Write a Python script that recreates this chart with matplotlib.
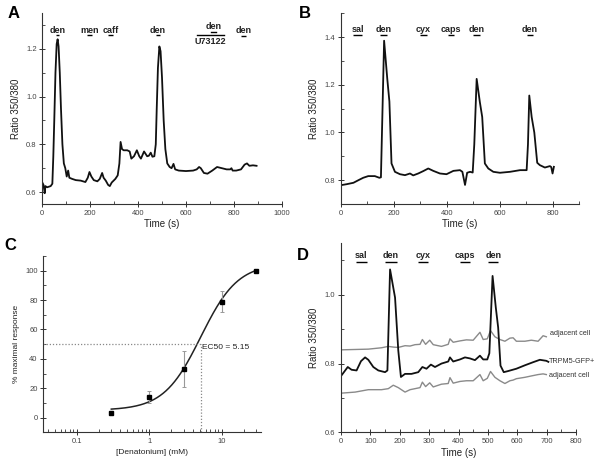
import numpy as np
import matplotlib
matplotlib.use("Agg")
import matplotlib.pyplot as plt
from matplotlib.ticker import MultipleLocator, LogLocator, NullFormatter, FixedLocator

plt.rcParams['font.family'] = ['Liberation Sans', 'DejaVu Sans']

# ---------------- Panel A data ----------------
a_time = [0, 5, 10, 13, 20, 35, 42, 46, 50, 55, 60, 64, 68, 73, 78, 84, 90, 96, 102, 108, 113,
          125, 140, 160, 180, 190, 197, 205, 215, 230, 240, 250, 256, 265, 275, 282, 290, 305,
          315, 322, 327, 333, 340, 355, 365, 372, 383, 395, 405, 412, 425, 438, 445, 453, 460,
          468, 474, 478, 483, 489, 494, 500, 507, 514, 522, 532, 540, 548, 555, 570, 600, 630,
          645, 655, 662, 675, 690, 710, 730, 750, 770, 785, 790, 795, 810, 830, 845, 855, 865,
          880, 895]
a_ratio = [0.64, 0.63, 0.595, 0.625, 0.62, 0.625, 0.635, 0.75, 0.90, 1.10, 1.22, 1.24, 1.21,
           1.10, 0.95, 0.80, 0.72, 0.70, 0.665, 0.69, 0.66, 0.655, 0.65, 0.648, 0.642, 0.66,
           0.684, 0.665, 0.65, 0.645, 0.655, 0.68, 0.66, 0.648, 0.63, 0.625, 0.64, 0.655, 0.67,
           0.72, 0.81, 0.78, 0.775, 0.775, 0.77, 0.74, 0.75, 0.775, 0.75, 0.74, 0.77, 0.75,
           0.752, 0.765, 0.748, 0.75, 0.80, 0.95, 1.12, 1.21, 1.19, 1.08, 0.90, 0.78, 0.72,
           0.705, 0.70, 0.718, 0.695, 0.69, 0.688, 0.69, 0.695, 0.705, 0.70, 0.68, 0.677, 0.69,
           0.705, 0.70, 0.695, 0.695, 0.70, 0.69, 0.69, 0.695, 0.715, 0.72, 0.71, 0.712, 0.71]
a_stim_labels = ["den", "men", "caff", "den", "den"]
a_stim_start = [57, 188, 276, 474, 829]
a_stim_end = [71, 206, 297, 492, 851]
a_u73_label = "U73122"
a_u73_den = (705, 724)
a_u73_span = (645, 759)

# ---------------- Panel B data ----------------
b_time = [0, 21, 47, 66, 84, 103, 128, 145, 151, 156, 163, 175, 183, 191, 204, 223, 242, 261,
          273, 292, 311, 330, 349, 374, 399, 425, 450, 459, 469, 477, 488, 498, 504, 513, 525,
          534, 544, 557, 576, 601, 639, 677, 702, 707, 712, 721, 731, 742, 752, 771, 790, 795,
          800, 805]
b_ratio = [0.779, 0.783, 0.789, 0.80, 0.81, 0.817, 0.817, 0.81, 0.812, 1.05, 1.385, 1.225, 1.13,
           0.87, 0.835, 0.825, 0.821, 0.828, 0.82, 0.828, 0.838, 0.849, 0.839, 0.828, 0.825,
           0.839, 0.842, 0.835, 0.78, 0.831, 0.835, 0.832, 0.95, 1.225, 1.128, 1.065, 0.87, 0.849,
           0.835, 0.831, 0.835, 0.842, 0.842, 0.95, 1.155, 1.065, 1.0, 0.873, 0.863, 0.853,
           0.859, 0.855, 0.828, 0.856]
b_stim_labels = ["sal", "den", "cyx", "caps", "den", "den"]
b_stim_start = [47, 147, 299, 406, 500, 702]
b_stim_end = [78, 175, 324, 427, 525, 727]

# ---------------- Panel C data ----------------
c_conc = [0.3, 1, 3, 10, 30]
c_resp = [3, 14, 33, 79, 100]
c_err = [1.5, 4, 12, 7, 0]
ec50 = 5.15
hill_bottom, hill_top, hill_n = 5.0, 105.0, 1.7

# ---------------- Panel D data ----------------
d_time = [2, 23, 36, 53, 68, 82, 93, 110, 127, 150, 158, 167, 184, 195, 204, 218, 240, 263, 277,
          291, 306, 320, 342, 365, 371, 382, 405, 422, 439, 456, 473, 484, 498, 505, 516, 527,
          535, 543, 554, 568, 597, 626, 654, 677, 699, 706]
d_trpm5 = [0.766, 0.79, 0.782, 0.78, 0.807, 0.818, 0.811, 0.79, 0.78, 0.775, 0.78, 1.074, 0.992,
           0.838, 0.761, 0.77, 0.77, 0.775, 0.79, 0.785, 0.797, 0.79, 0.80, 0.806, 0.818, 0.806,
           0.812, 0.818, 0.815, 0.81, 0.823, 0.812, 0.812, 0.83, 1.055, 0.963, 0.905, 0.794, 0.775,
           0.778, 0.785, 0.795, 0.804, 0.811, 0.808, 0.805]
d_adj_time = [2, 48, 93, 138, 161, 178, 195, 218, 235, 252, 269, 277, 288, 302, 314, 342, 365,
              371, 382, 405, 427, 450, 473, 484, 498, 509, 524, 541, 558, 575, 586, 597, 626, 648,
              671, 688, 699]
d_adj_upper = [0.84, 0.841, 0.842, 0.846, 0.85, 0.848, 0.847, 0.852, 0.851, 0.855, 0.856, 0.87,
               0.856, 0.868, 0.855, 0.85, 0.856, 0.872, 0.862, 0.866, 0.869, 0.868, 0.891, 0.87,
               0.872, 0.896, 0.878, 0.87, 0.865, 0.874, 0.875, 0.865, 0.865, 0.868, 0.865, 0.881,
               0.878]
d_adj_lower = [0.714, 0.717, 0.724, 0.724, 0.727, 0.737, 0.73, 0.717, 0.724, 0.727, 0.73, 0.746,
               0.733, 0.744, 0.732, 0.74, 0.742, 0.759, 0.743, 0.748, 0.75, 0.75, 0.768, 0.75,
               0.757, 0.777, 0.76, 0.75, 0.742, 0.75, 0.752, 0.756, 0.76, 0.764, 0.768, 0.77, 0.768]
d_stim_labels = ["sal", "den", "cyx", "caps", "den"]
d_stim_start = [50, 150, 261, 405, 501]
d_stim_end = [87, 189, 295, 439, 535]

# ---------------- figure ----------------
fig = plt.figure(figsize=(6.0, 4.67), dpi=100)
TICK_FS = 5.5
LAB_FS = 7
STIM_FS = 6.5
TXT = '#222222'


def style(ax):
    for s in ('top', 'right'):
        ax.spines[s].set_visible(False)
    for s in ('left', 'bottom'):
        ax.spines[s].set_linewidth(0.8)
        ax.spines[s].set_color('#333333')
    ax.tick_params(which='major', direction='inout', length=4, width=0.7,
                   labelsize=TICK_FS, colors='#333333', labelcolor='#444444', pad=2)
    ax.tick_params(which='minor', direction='in', length=2, width=0.6, colors='#333333')


def stim(ax, labels, starts, ends, y_text, y_bar):
    for lab, s, e in zip(labels, starts, ends):
        ax.plot([s, e], [y_bar, y_bar], color='black', lw=1.0, solid_capstyle='butt')
        ax.text((s + e) / 2, y_text, lab, ha='center', va='center', fontsize=STIM_FS,
                fontweight='bold', color=TXT)


# Panel A
axA = fig.add_axes([42.3 / 600, 1 - 204 / 467, 239.4 / 600, 191 / 467])
style(axA)
axA.plot(a_time, a_ratio, color='#111111', lw=1.3)
axA.set_xlim(0, 1000)
axA.set_ylim(0.55, 1.35)
axA.xaxis.set_major_locator(MultipleLocator(200))
axA.xaxis.set_minor_locator(MultipleLocator(100))
axA.yaxis.set_major_locator(FixedLocator([0.6, 0.8, 1.0, 1.2]))
axA.yaxis.set_minor_locator(FixedLocator([0.7, 0.9, 1.1, 1.3]))
axA.set_xlabel('Time (s)', fontsize=LAB_FS, labelpad=2, color=TXT)
axA.set_ylabel('Ratio 350/380', fontsize=LAB_FS, labelpad=4, color=TXT)
stim(axA, a_stim_labels[:4], a_stim_start[:4], a_stim_end[:4], 1.278, 1.256)
stim(axA, [a_stim_labels[4]], [a_stim_start[4]], [a_stim_end[4]], 1.275, 1.253)
axA.plot(list(a_u73_den), [1.272, 1.272], color='black', lw=1.0)
axA.text(sum(a_u73_den) / 2, 1.292, 'den', ha='center', va='center', fontsize=STIM_FS,
         fontweight='bold', color=TXT)
axA.plot(list(a_u73_span), [1.256, 1.256], color='black', lw=1.0)
axA.text(sum(a_u73_span) / 2, 1.232, a_u73_label, ha='center', va='center', fontsize=STIM_FS,
         fontweight='bold', color=TXT)
fig.text(14 / 600, 1 - 14 / 467, 'A', fontsize=12, fontweight='bold', ha='center', va='center')

# Panel B
axB = fig.add_axes([341 / 600, 1 - 204 / 467, 238 / 600, 190.7 / 467])
style(axB)
axB.plot(b_time, b_ratio, color='#111111', lw=1.3)
axB.set_xlim(0, 900)
axB.set_ylim(0.7, 1.5)
axB.xaxis.set_major_locator(FixedLocator([0, 200, 400, 600, 800]))
axB.xaxis.set_minor_locator(FixedLocator([100, 300, 500, 700, 900]))
axB.yaxis.set_major_locator(FixedLocator([0.8, 1.0, 1.2, 1.4]))
axB.yaxis.set_minor_locator(FixedLocator([0.7, 0.9, 1.1, 1.3, 1.5]))
axB.set_xlabel('Time (s)', fontsize=LAB_FS, labelpad=2, color=TXT)
axB.set_ylabel('Ratio 350/380', fontsize=LAB_FS, labelpad=4, color=TXT)
stim(axB, b_stim_labels, b_stim_start, b_stim_end, 1.43, 1.408)
fig.text(305 / 600, 1 - 13 / 467, 'B', fontsize=12, fontweight='bold', ha='center', va='center')

# Panel C
axC = fig.add_axes([43.3 / 600, 1 - 432.3 / 467, 217.4 / 600, 176.3 / 467])
style(axC)
axC.set_xscale('log')
axC.set_xlim(0.0346, 34.5)
axC.set_ylim(-10, 110)
xf = np.logspace(np.log10(c_conc[0]), np.log10(c_conc[-1]), 200)
yf = hill_bottom + (hill_top - hill_bottom) / (1 + (ec50 / xf) ** hill_n)
axC.plot(xf, yf, color='#222222', lw=1.1)
axC.errorbar(c_conc, c_resp, yerr=c_err, fmt='s', color='black', ms=3.2,
             ecolor='#999999', elinewidth=0.8, capsize=1.5, capthick=0.7)
axC.plot([0.0346, ec50], [50, 50], color='#888888', lw=0.9, ls=(0, (1, 1.5)))
axC.plot([ec50, ec50], [-10, 50], color='#888888', lw=0.9, ls=(0, (1, 1.5)))
axC.text(ec50 * 1.05, 48, 'EC50 = 5.15', fontsize=6, va='center', ha='left', color=TXT)
axC.xaxis.set_major_locator(FixedLocator([0.1, 1, 10]))
axC.set_xticklabels(['0.1', '1', '10'])
axC.xaxis.set_minor_locator(LogLocator(base=10, subs=np.arange(2, 10), numticks=20))
axC.xaxis.set_minor_formatter(NullFormatter())
axC.yaxis.set_major_locator(MultipleLocator(20))
axC.yaxis.set_minor_locator(MultipleLocator(10))
axC.set_xlabel('[Denatonium] (mM)', fontsize=6, labelpad=3, color=TXT)
axC.set_ylabel('% maximal response', fontsize=6, labelpad=4, color=TXT)
fig.text(10 / 600, 1 - 246 / 467, 'C', fontsize=12, fontweight='bold', ha='center', va='center')

# Panel D
axD = fig.add_axes([341 / 600, 1 - 432.3 / 467, 235 / 600, 189 / 467])
style(axD)
axD.plot(d_adj_time, d_adj_upper, color='#8a8a8a', lw=1.0)
axD.plot(d_adj_time, d_adj_lower, color='#8a8a8a', lw=1.0)
axD.plot(d_time, d_trpm5, color='#111111', lw=1.3)
axD.set_xlim(0, 800)
axD.set_ylim(0.6, 1.15)
axD.xaxis.set_major_locator(MultipleLocator(100))
axD.xaxis.set_minor_locator(MultipleLocator(50))
axD.yaxis.set_major_locator(FixedLocator([0.6, 0.8, 1.0]))
axD.yaxis.set_minor_locator(FixedLocator([0.7, 0.9, 1.1]))
axD.set_xlabel('Time (s)', fontsize=LAB_FS, labelpad=2, color=TXT)
axD.set_ylabel('Ratio 350/380', fontsize=LAB_FS, labelpad=4, color=TXT)
axD.text(712, 0.888, 'adjacent cell', fontsize=5.2, va='center', ha='left', color='#333333')
axD.text(708, 0.807, 'TRPM5-GFP+', fontsize=5.2, va='center', ha='left', color='#333333')
axD.text(708, 0.766, 'adjacent cell', fontsize=5.2, va='center', ha='left', color='#333333')
stim(axD, d_stim_labels, d_stim_start, d_stim_end, 1.114, 1.096)
fig.text(303 / 600, 1 - 255 / 467, 'D', fontsize=12, fontweight='bold', ha='center', va='center')

fig.savefig('out.png', dpi=100)
